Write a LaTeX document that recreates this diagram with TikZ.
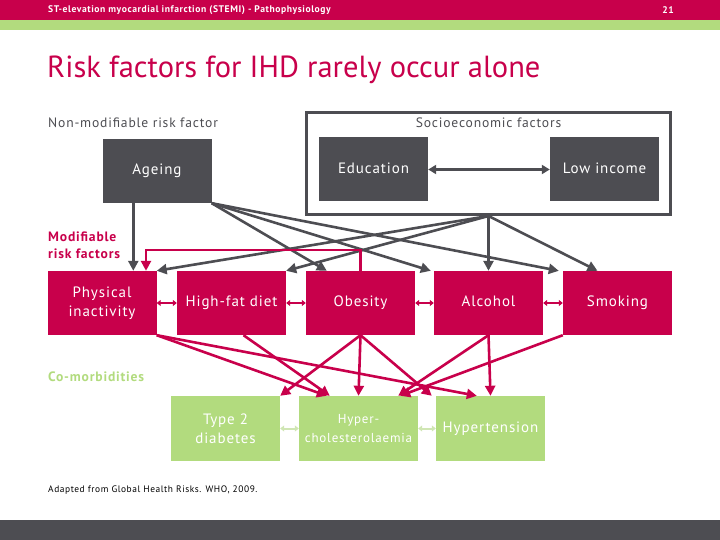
\documentclass[tikz,border=0pt]{standalone}
\usepackage{fontspec}
\setmainfont[LetterSpace=6]{PT Sans}
\newfontfamily\titlefont{PT Sans}
\usepackage{tikz}
\usetikzlibrary{positioning,calc,arrows.meta}
\definecolor{stemired}{RGB}{200,0,75}
\definecolor{slategray}{RGB}{77,77,82}
\definecolor{leafgreen}{RGB}{178,219,126}
\definecolor{palegreen}{RGB}{208,230,180}
\newcommand{\fs}[2]{\fontsize{#1}{#2}\selectfont}

\begin{document}
\begin{tikzpicture}[x=1pt,y=-1pt,
  fixed/.style={fill=slategray,text=white,minimum width=109pt,minimum height=64pt,
                inner sep=0pt,align=center,font=\fs{15}{19}},
  modbox/.style={fixed,fill=stemired},
  cobox/.style={fixed,fill=leafgreen,minimum height=65pt},
  oneline/.style={text height=11pt,text depth=3.5pt},
  garr/.style={draw=slategray,line width=2.6pt,-{Triangle[length=10pt,width=10pt]}},
  marr/.style={draw=stemired,line width=2.6pt,-{Triangle[length=10pt,width=10pt]}},
  mlink/.style={draw=stemired,line width=1.8pt,{Triangle[length=4pt,width=6pt]}-{Triangle[length=4pt,width=6pt]}},
  clink/.style={draw=palegreen,line width=2pt,{Triangle[length=4pt,width=6pt]}-{Triangle[length=4pt,width=6pt]}},
  tag/.style={anchor=west,inner sep=0pt,align=left,font=\fs{13.6}{17}}]
  \useasboundingbox (0,0) rectangle (720,540);
  % slide furniture
  \fill[stemired] (0,0) rectangle (720,20);
  \fill[leafgreen] (0,20) rectangle (720,30);
  \fill[slategray] (0,520) rectangle (720,540);
  \node[anchor=west,inner sep=0pt,text=white,font=\fs{9.6}{12}\bfseries] (head) at (48,10)
    {ST-elevation myocardial infarction (STEMI) - Pathophysiology};
  \node[anchor=east,inner sep=0pt,text=white,font=\fs{9.6}{12}\bfseries] (page) at (674,10) {21};
  \node[anchor=west,inner sep=0pt,text=stemired,font=\titlefont\fs{30.5}{36}] (title) at (47,70)
    {Risk factors for IHD rarely occur alone};

  % non-modifiable and socioeconomic
  \node[tag,text=slategray] (nonmodlbl) at (48,123) {Non-modifiable risk factor};
  \node[fixed,oneline] (age) at (157,171) {Ageing};
  \node[draw=slategray,line width=3pt,minimum width=364pt,minimum height=102pt] (socio) at (488.5,163.5) {};
  \node[text=slategray,inner sep=0pt,font=\fs{13.6}{17}] (sociolbl) at (488.5,123) {Socioeconomic factors};
  \node[fixed,oneline] (edu) at (373.5,169.5) {Education};
  \node[fixed,oneline] (inc) at (604.5,169.5) {Low income};
  \draw[draw=slategray,line width=2.6pt,{Triangle[length=8pt,width=9pt]}-{Triangle[length=8pt,width=9pt]}] (edu) -- (inc);

  % modifiable
  \node[tag,text=stemired,font=\fs{13.6}{17}\bfseries] (modlbl) at (48,245) {Modifiable\\risk factors};
  \node[modbox] (phys) at (102,303) {Physical\\inactivity};
  \node[modbox,oneline] (fat)  at (231.5,303) {High-fat diet};
  \node[modbox,oneline] (obes) at (360.5,303) {Obesity};
  \node[modbox,oneline] (alc)  at (488.5,303) {Alcohol};
  \node[modbox,oneline] (smok) at (617.5,303) {Smoking};
  \draw[mlink] (phys) -- (fat);
  \draw[mlink] (fat) -- (obes);
  \draw[mlink] (obes) -- (alc);
  \draw[mlink] (alc) -- (smok);

  % co-morbidities
  \node[tag,text=leafgreen,font=\fs{13.6}{17}\bfseries] (colbl) at (48,377) {Co-morbidities};
  \node[cobox] (diab) at (225.5,428.5) {Type 2\\diabetes};
  \node[cobox,minimum width=119pt,font=\fs{13}{19}] (chol) at (358.5,428.5) {Hyper-\\cholesterolaemia};
  \node[cobox,oneline] (hyp)  at (490.5,428.5) {Hypertension};
  \draw[clink] (diab) -- (chol);
  \draw[clink] (chol) -- (hyp);

  % ageing and socioeconomic to modifiable
  \draw[garr] ($(age.south west)+(31,0)$) -- ($(phys.north west)+(86,0)$);
  \draw[garr] (age.south east) -- ($(obes.north west)+(21,0)$);
  \draw[garr] (age.south east) -- ($(alc.north west)+(-3,0)$);
  \draw[garr] (age.south east) -- ($(smok.north west)+(-4,0)$);
  \draw[garr] (socio.south) -- (phys.north east);
  \draw[garr] (socio.south) -- (fat.north east);
  \draw[garr] (socio.south) -- (alc.north);
  \draw[garr] (socio.south) -- ($(smok.north)+(-20,0)$);
  \draw[marr] (obes.north) -- ++(0,-21) -| ($(phys.north)+(44,0)$);

  % modifiable to co-morbidities
  \draw[marr] (phys.south east) -- ($(chol.north west)+(28,0)$);
  \draw[marr] (phys.south east) -- ($(hyp.north west)+(41,0)$);
  \draw[marr] ($(fat.south)+(12,0)$) -- ($(chol.north west)+(31,0)$);
  \draw[marr] (obes.south) -- (diab.north east);
  \draw[marr] (obes.south) -- (chol.north);
  \draw[marr] (obes.south) -- ($(hyp.north west)+(-4,0)$);
  \draw[marr] (alc.south) -- ($(chol.north east)+(-20,0)$);
  \draw[marr] (alc.south) -- (hyp.north);
  \draw[marr] (smok.south west) -- ($(chol.north east)+(-18,0)$);

  \node[tag,text=black,font=\fs{9.4}{12}] (source) at (48,490) {Adapted from Global Health Risks. WHO, 2009.};
\end{tikzpicture}
\end{document}
